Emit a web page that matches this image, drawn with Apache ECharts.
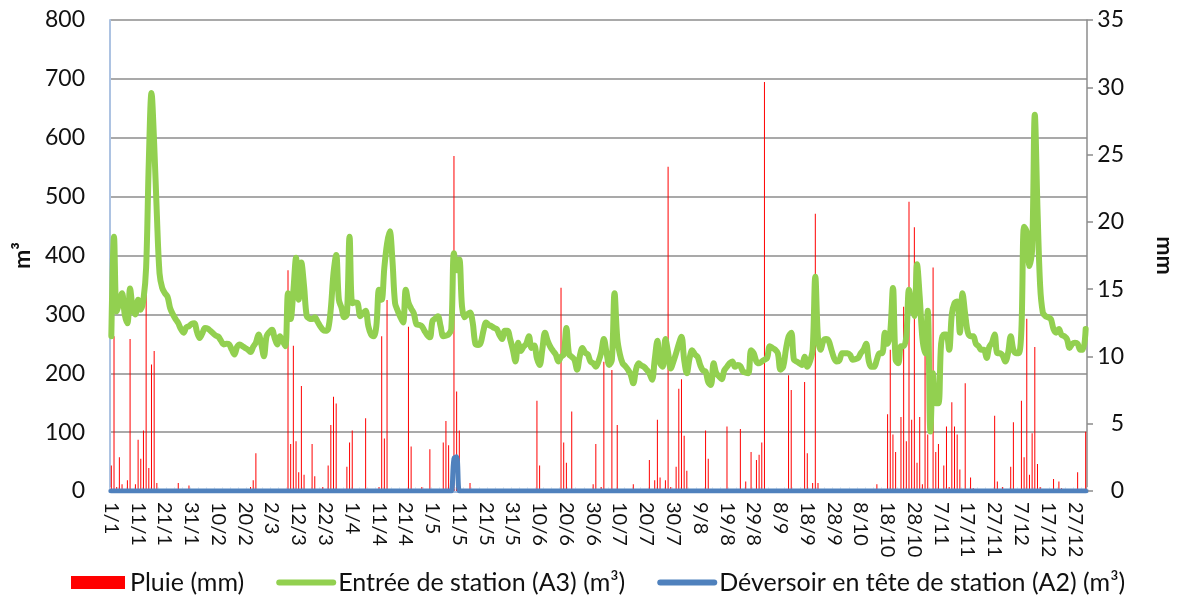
<!DOCTYPE html>
<html>
<head>
<meta charset="utf-8">
<script src="https://cdn.jsdelivr.net/npm/echarts@6/dist/echarts.min.js"></script>
<style>
html,body{margin:0;padding:0;background:#fff;}
#chart{width:1184px;height:600px;}
</style>
</head>
<body>
<div id="chart"></div>
<script>
// ---- DATA ----
const monthDays = [31,28,31,30,31,30,31,31,30,31,30,31];
const leftTicks = {min: 0, max: 800, interval: 100};
const rightTicks = {min: 0, max: 35, interval: 5};

// Entrée de station (A3) (m³), one value per day from 1/1 to 31/12
const entree = [
263,432,305,320,336,300,285,344,310,300,325,308,325,380,560,676,590,470,370,345,
336,330,310,300,292,285,275,269,278,280,284,285,270,260,268,277,276,272,268,264,
262,255,249,250,249,240,232,245,249,246,243,240,236,245,252,266,250,229,263,270,
274,260,249,263,255,246,336,292,340,396,325,388,348,297,293,292,295,288,280,274,
272,275,310,370,401,325,311,295,300,432,319,320,319,297,302,306,280,266,263,280,
342,325,380,420,441,393,319,306,295,286,342,320,310,302,283,282,280,272,265,261,
289,293,297,280,263,264,266,275,404,375,393,314,295,300,303,286,250,248,252,272,
286,282,280,277,275,265,258,272,272,258,240,220,252,238,245,250,263,243,247,225,
214,240,269,255,245,238,232,220,228,232,277,232,228,223,206,229,243,235,232,220,
217,211,220,235,258,235,214,223,336,260,232,217,212,206,198,183,206,217,213,211,
206,200,189,223,255,217,211,258,235,208,220,234,250,262,223,200,225,239,232,228,
214,205,203,185,180,217,200,195,190,205,211,217,220,211,214,212,203,201,200,239,
234,220,217,220,223,226,246,243,240,234,206,211,240,262,269,223,220,217,214,228,
211,220,240,364,260,240,255,258,255,240,226,220,222,234,234,234,231,223,224,226,
234,240,250,220,211,211,223,234,234,269,250,270,345,223,217,246,246,263,342,314,
297,385,330,260,234,306,101,200,149,149,250,266,266,240,300,319,322,269,336,300,
269,263,263,250,246,240,240,226,245,252,266,234,234,230,220,234,263,240,234,234,
275,449,440,382,410,639,480,348,303,297,295,292,275,269,275,265,263,258,243,250,
252,250,240,240,275
];

// Déversoir en tête de station (A2) (m³), one value per day
const deversoir = [
0,0,0,0,0,0,0,0,0,0,0,0,0,0,0,0,0,0,0,0,0,0,0,0,0,0,0,0,0,0,
0,0,0,0,0,0,0,0,0,0,0,0,0,0,0,0,0,0,0,0,0,0,0,0,0,0,0,0,0,0,
0,0,0,0,0,0,0,0,0,0,0,0,0,0,0,0,0,0,0,0,0,0,0,0,0,0,0,0,0,0,
0,0,0,0,0,0,0,0,0,0,0,0,0,0,0,0,0,0,0,0,0,0,0,0,0,0,0,0,0,0,
0,0,0,0,0,0,0,0,55,58,0,0,0,0,0,0,0,0,0,0,0,0,0,0,0,0,0,0,0,0,
0,0,0,0,0,0,0,0,0,0,0,0,0,0,0,0,0,0,0,0,0,0,0,0,0,0,0,0,0,0,
0,0,0,0,0,0,0,0,0,0,0,0,0,0,0,0,0,0,0,0,0,0,0,0,0,0,0,0,0,0,
0,0,0,0,0,0,0,0,0,0,0,0,0,0,0,0,0,0,0,0,0,0,0,0,0,0,0,0,0,0,
0,0,0,0,0,0,0,0,0,0,0,0,0,0,0,0,0,0,0,0,0,0,0,0,0,0,0,0,0,0,
0,0,0,0,0,0,0,0,0,0,0,0,0,0,0,0,0,0,0,0,0,0,0,0,0,0,0,0,0,0,
0,0,0,0,0,0,0,0,0,0,0,0,0,0,0,0,0,0,0,0,0,0,0,0,0,0,0,0,0,0,
0,0,0,0,0,0,0,0,0,0,0,0,0,0,0,0,0,0,0,0,0,0,0,0,0,0,0,0,0,0,
0,0,0,0,0
];

// Pluie (mm): [day index, mm] for rainy days (other days 0)
const pluie = [
[0,1.9],[1,11.5],[2,0.3],[3,2.5],[4,0.5],[6,0.8],[7,11.3],[9,0.5],[10,3.8],[11,2.4],
[12,4.5],[13,14.6],[14,1.7],[15,9.4],[16,10.4],[17,0.6],[25,0.6],[29,0.4],[52,0.3],[53,0.8],
[54,2.8],[66,16.4],[67,3.5],[68,10.8],[69,3.7],[70,1.4],[71,7.8],[72,1.2],[75,3.5],[76,1.1],
[79,0.3],[81,1.9],[82,4.9],[83,7.0],[84,6.5],[88,1.8],[89,3.6],[90,4.5],[95,5.4],[100,0.3],
[101,11.5],[102,3.9],[103,14.2],[111,12.2],[112,3.3],[116,0.3],[119,3.1],[124,3.6],[125,5.2],[126,3.4],
[128,24.9],[129,7.4],[130,4.5],[134,0.6],[159,6.7],[160,1.9],[168,15.1],[169,3.6],[170,2.1],[172,5.9],
[180,0.5],[181,3.5],[183,0.3],[184,9.6],[187,9.0],[189,4.9],[195,0.5],[201,2.3],[203,0.8],[204,5.3],
[205,1.0],[207,0.8],[208,24.1],[209,0.3],[211,1.8],[212,7.6],[213,8.3],[214,4.1],[215,1.5],[222,4.5],
[223,2.4],[230,4.8],[235,4.6],[237,0.7],[239,2.9],[241,2.3],[242,2.7],[243,3.6],[244,30.4],[253,8.6],
[254,7.5],[259,8.1],[260,2.8],[262,0.6],[263,20.6],[264,0.6],[286,0.5],[290,5.7],[291,10.5],[292,4.2],
[293,2.9],[295,5.5],[296,13.7],[297,3.7],[298,21.5],[299,5.3],[300,19.6],[301,2.1],[302,5.5],[303,0.5],
[304,11.4],[305,4.2],[307,16.6],[308,2.9],[309,3.5],[311,1.9],[312,4.8],[313,0.3],[314,6.6],[315,4.8],
[316,4.2],[317,1.6],[319,8.0],[321,1.0],[322,0.2],[330,5.6],[331,0.7],[333,0.3],[336,1.8],[337,5.1],
[340,6.7],[341,2.5],[342,12.8],[343,1.2],[344,4.3],[345,10.7],[346,2.0],[347,0.3],[352,0.9],[354,0.7],
[355,0.2],[361,1.4],[364,4.4]
];

const seriesNames = ['Pluie (mm)', 'Entrée de station (A3) (m³)', 'Déversoir en tête de station (A2) (m³)'];

// ---- BUILD ----
const categories = [];
monthDays.forEach((n, m) => { for (let d = 1; d <= n; d++) categories.push(d + '/' + (m + 1)); });
const rainMap = {};
pluie.forEach(p => { rainMap[p[0]] = p[1]; });
const rainSeries = categories.map((c, i) => (rainMap[i] !== undefined ? rainMap[i] : 0));

const FONT = 'Lato';
const chart = echarts.init(document.getElementById('chart'), null, {renderer: 'canvas'});
chart.setOption({
  animation: false,
  backgroundColor: '#ffffff',
  textStyle: {fontFamily: FONT},
  grid: {left: 110, right: 94, top: 20, bottom: 109, containLabel: false},
  legend: {
    left: 66, top: 565,
    itemWidth: 54, itemHeight: 13, itemGap: 32,
    textStyle: {fontFamily: FONT, fontSize: 25, color: '#111'},
    data: [
      {name: seriesNames[0], icon: 'rect'},
      {name: seriesNames[1], itemStyle: {opacity: 0}, lineStyle: {width: 6, color: '#92d050'}},
      {name: seriesNames[2], itemStyle: {opacity: 0}, lineStyle: {width: 6, color: '#4f81bd'}}
    ]
  },
  xAxis: {
    type: 'category',
    data: categories,
    boundaryGap: true,
    offset: 5,
    axisLine: {show: true, lineStyle: {color: '#9fb9dc', width: 4}},
    axisTick: {show: true, interval: 2, inside: true, length: 4, lineStyle: {color: '#e4ecf6', width: 1}},
    axisLabel: {
      interval: 9, rotate: -90, margin: 6,
      fontFamily: FONT, fontSize: 20, color: '#111'
    },
    splitLine: {show: false}
  },
  yAxis: [
    {
      type: 'value', min: leftTicks.min, max: leftTicks.max, interval: leftTicks.interval,
      name: 'm³', nameLocation: 'middle', nameGap: 74, nameRotate: 90,
      nameTextStyle: {fontFamily: FONT, fontSize: 23, fontWeight: 'bold', color: '#111'},
      axisLine: {show: true, lineStyle: {color: '#adc3e2', width: 2}},
      axisTick: {show: false},
      axisLabel: {margin: 25, fontFamily: FONT, fontSize: 23, color: '#111'},
      splitLine: {show: true, lineStyle: {color: '#8c8c8c', width: 1.5}}
    },
    {
      type: 'value', min: rightTicks.min, max: rightTicks.max, interval: rightTicks.interval,
      position: 'right',
      name: 'mm', nameLocation: 'middle', nameGap: 66, nameRotate: -90,
      nameTextStyle: {fontFamily: FONT, fontSize: 23, fontWeight: 'bold', color: '#111'},
      axisLine: {show: true, lineStyle: {color: '#8c8c8c', width: 1.5}},
      axisTick: {show: true, length: 6, lineStyle: {color: '#8c8c8c', width: 1.5}},
      axisLabel: {margin: 37, align: 'right', fontFamily: FONT, fontSize: 23, color: '#111'},
      splitLine: {show: false}
    }
  ],
  series: [
    {
      name: seriesNames[0], type: 'bar', yAxisIndex: 1,
      data: rainSeries, barWidth: 1,
      itemStyle: {color: '#ff0000'}
    },
    {
      name: seriesNames[1], type: 'line', yAxisIndex: 0,
      data: entree, symbol: 'none', smooth: 0.35,
      lineStyle: {color: '#92d050', width: 6, cap: 'round', join: 'round'},
      itemStyle: {color: '#92d050'}
    },
    {
      name: seriesNames[2], type: 'line', yAxisIndex: 0,
      data: deversoir, symbol: 'none', smooth: 0.35,
      lineStyle: {color: '#4f81bd', width: 5, cap: 'round', join: 'round'},
      itemStyle: {color: '#4f81bd'}
    }
  ]
});
</script>
</body>
</html>
